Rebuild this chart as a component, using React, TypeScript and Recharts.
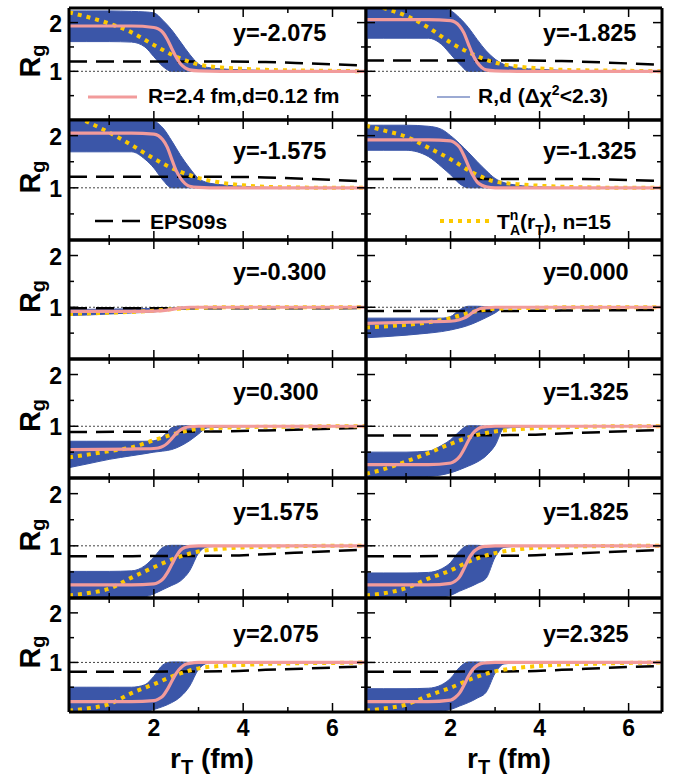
import React from 'react';
import { ComposedChart, Line, Area, XAxis, YAxis } from 'recharts';

const FONT = "'Liberation Sans', Arial, Helvetica, sans-serif";
const BLUE = '#3b56a8';
const PINK_C = '#f29b9b';
const GOLD = '#fcc900';

// rapidity of each panel (row-major, left then right)
const PANEL_RAPIDITY = ['-2.075', '-1.825', '-1.575', '-1.325', '-0.300', '0.000', '0.300', '1.325', '1.575', '1.825', '2.075', '2.325'];

// tick values
const X_TICKS = [1, 2, 3, 4, 5, 6];
const X_LABELED = [2, 4, 6];
const Y_TICKS = [0.5, 1, 1.5, 2];
const Y_LABELED = [1, 2];

// pink: R=2.4 fm, d=0.12 fm
const R_PINK = [0.1, 1.5, 2.0, 2.1, 2.2, 2.3, 2.4, 2.5, 2.6, 2.7, 2.8, 3.0, 3.5, 6.75];
const PINK = [
  [1.93, 1.93, 1.90, 1.87, 1.80, 1.66, 1.47, 1.29, 1.15, 1.07, 1.03, 1.01, 1.0, 1.0],
  [2.06, 2.06, 2.04, 2.01, 1.93, 1.79, 1.56, 1.34, 1.18, 1.08, 1.03, 1.01, 1.0, 1.0],
  [2.05, 2.05, 2.03, 2.00, 1.92, 1.78, 1.55, 1.33, 1.18, 1.08, 1.03, 1.01, 1.0, 1.0],
  [1.92, 1.92, 1.90, 1.86, 1.78, 1.62, 1.42, 1.24, 1.11, 1.05, 1.02, 1.0, 1.0, 1.0],
  [0.92, 0.92, 0.925, 0.93, 0.935, 0.945, 0.96, 0.975, 0.985, 0.995, 1.0, 1.0, 1.0, 1.0],
  [0.69, 0.72, 0.73, 0.74, 0.76, 0.79, 0.84, 0.90, 0.95, 0.98, 0.99, 1.0, 1.0, 1.0],
  [0.55, 0.56, 0.57, 0.58, 0.61, 0.67, 0.76, 0.86, 0.93, 0.97, 0.99, 1.0, 1.0, 1.0],
  [0.26, 0.26, 0.29, 0.33, 0.41, 0.55, 0.72, 0.86, 0.94, 0.98, 0.99, 1.0, 1.0, 1.0],
  [0.25, 0.25, 0.27, 0.30, 0.36, 0.48, 0.64, 0.80, 0.92, 0.97, 0.99, 1.0, 1.0, 1.0],
  [0.25, 0.25, 0.28, 0.32, 0.40, 0.56, 0.74, 0.87, 0.94, 0.98, 0.99, 1.0, 1.0, 1.0],
  [0.21, 0.21, 0.23, 0.26, 0.32, 0.45, 0.62, 0.78, 0.89, 0.96, 0.98, 1.0, 1.0, 1.0],
  [0.21, 0.21, 0.24, 0.29, 0.38, 0.54, 0.72, 0.86, 0.94, 0.98, 0.99, 1.0, 1.0, 1.0],
];

// yellow dotted: T_A^n(r_T), n=15
const R_YEL = [0.1, 0.5, 1.0, 1.5, 2.0, 2.5, 3.0, 3.5, 4.0, 4.5, 5.0, 6.0, 6.75];
const YELLOW = [
  [2.21, 2.12, 1.98, 1.80, 1.54, 1.30, 1.14, 1.08, 1.05, 1.03, 1.02, 1.01, 1.0],
  [2.42, 2.30, 2.14, 1.90, 1.59, 1.35, 1.18, 1.10, 1.06, 1.03, 1.02, 1.01, 1.0],
  [2.42, 2.27, 2.06, 1.82, 1.56, 1.34, 1.19, 1.10, 1.05, 1.02, 1.01, 1.0, 1.0],
  [2.19, 2.10, 1.98, 1.77, 1.55, 1.29, 1.12, 1.07, 1.04, 1.02, 1.01, 1.0, 1.0],
  [0.87, 0.88, 0.895, 0.91, 0.935, 0.97, 0.99, 1.0, 1.0, 1.0, 1.0, 1.0, 1.0],
  [0.61, 0.63, 0.66, 0.71, 0.79, 0.91, 0.97, 0.985, 0.99, 1.0, 1.0, 1.0, 1.0],
  [0.40, 0.45, 0.52, 0.59, 0.73, 0.86, 0.95, 0.97, 0.98, 0.99, 0.99, 1.0, 1.0],
  [0.08, 0.17, 0.32, 0.48, 0.66, 0.81, 0.90, 0.94, 0.97, 0.98, 0.99, 1.0, 1.0],
  [0.05, 0.09, 0.18, 0.39, 0.59, 0.77, 0.89, 0.94, 0.97, 0.98, 0.99, 1.0, 1.0],
  [0.05, 0.09, 0.19, 0.37, 0.53, 0.73, 0.86, 0.93, 0.97, 0.98, 0.99, 1.0, 1.0],
  [0.03, 0.07, 0.16, 0.38, 0.56, 0.75, 0.88, 0.93, 0.95, 0.97, 0.98, 0.99, 1.0],
  [0.03, 0.07, 0.15, 0.33, 0.49, 0.68, 0.82, 0.89, 0.93, 0.96, 0.97, 0.99, 1.0],
];

// black dashed: EPS09s
const R_DASH = [0.1, 3.5, 4.5, 5.5, 6.75];
const EPS = [
  [1.20, 1.20, 1.19, 1.16, 1.12],
  [1.22, 1.22, 1.21, 1.18, 1.13],
  [1.21, 1.21, 1.20, 1.17, 1.12],
  [1.17, 1.17, 1.17, 1.16, 1.13],
  [0.98, 0.98, 0.98, 0.98, 0.985],
  [0.93, 0.93, 0.935, 0.94, 0.95],
  [0.89, 0.90, 0.92, 0.94, 0.97],
  [0.82, 0.83, 0.86, 0.89, 0.93],
  [0.80, 0.81, 0.84, 0.88, 0.93],
  [0.80, 0.81, 0.84, 0.88, 0.92],
  [0.81, 0.82, 0.85, 0.88, 0.92],
  [0.81, 0.82, 0.85, 0.89, 0.93],
];

// blue band: R,d (dchi2<2.3)
const R_BAND = [0.1, 0.5, 1.0, 1.5, 1.8, 2.0, 2.2, 2.4, 2.6, 2.8, 3.0, 3.2, 3.5, 4.0, 5.0, 6.75];
const BAND_HIGH = [
  [2.24, 2.24, 2.24, 2.23, 2.22, 2.20, 2.05, 1.85, 1.60, 1.35, 1.15, 1.08, 1.05, 1.03, 1.01, 1.0],
  [2.32, 2.32, 2.32, 2.32, 2.30, 2.25, 2.10, 1.90, 1.65, 1.42, 1.25, 1.14, 1.07, 1.04, 1.01, 1.0],
  [2.27, 2.27, 2.27, 2.27, 2.27, 2.27, 2.15, 1.90, 1.62, 1.38, 1.18, 1.10, 1.06, 1.03, 1.0, 1.0],
  [2.20, 2.20, 2.20, 2.18, 2.12, 2.00, 1.85, 1.68, 1.50, 1.33, 1.18, 1.10, 1.05, 1.02, 1.0, 1.0],
  [0.96, 0.96, 0.965, 0.97, 0.975, 0.98, 0.985, 0.99, 1.0, 1.0, 1.0, 1.0, 1.0, 1.0, 1.0, 1.0],
  [0.79, 0.79, 0.79, 0.79, 0.79, 0.82, 0.95, 1.02, 1.02, 1.01, 1.0, 1.0, 1.0, 1.0, 1.0, 1.0],
  [0.71, 0.71, 0.71, 0.71, 0.71, 0.72, 0.80, 0.97, 1.01, 1.01, 1.0, 1.0, 1.0, 1.0, 1.0, 1.0],
  [0.50, 0.50, 0.50, 0.52, 0.63, 0.74, 0.90, 1.01, 1.01, 1.0, 1.0, 1.0, 1.0, 1.0, 1.0, 1.0],
  [0.51, 0.51, 0.51, 0.52, 0.62, 0.78, 0.97, 1.01, 1.01, 1.0, 1.0, 1.0, 1.0, 1.0, 1.0, 1.0],
  [0.48, 0.48, 0.48, 0.49, 0.56, 0.68, 0.90, 1.01, 1.01, 1.0, 1.0, 1.0, 1.0, 1.0, 1.0, 1.0],
  [0.50, 0.50, 0.50, 0.50, 0.55, 0.72, 0.95, 1.01, 1.01, 1.0, 1.0, 1.0, 1.0, 1.0, 1.0, 1.0],
  [0.47, 0.47, 0.47, 0.48, 0.55, 0.68, 0.90, 1.01, 1.01, 1.0, 1.0, 1.0, 1.0, 1.0, 1.0, 1.0],
];
const BAND_LOW = [
  [1.61, 1.61, 1.61, 1.60, 1.50, 1.30, 1.10, 1.0, 1.0, 1.0, 1.0, 1.0, 1.0, 1.0, 1.0, 1.0],
  [1.68, 1.68, 1.68, 1.68, 1.55, 1.35, 1.15, 1.0, 1.0, 1.0, 1.0, 1.0, 1.0, 1.0, 1.0, 1.0],
  [1.69, 1.69, 1.69, 1.69, 1.55, 1.38, 1.15, 1.0, 1.0, 1.0, 1.0, 1.0, 1.0, 1.0, 1.0, 1.0],
  [1.72, 1.72, 1.72, 1.60, 1.40, 1.25, 1.08, 1.0, 1.0, 1.0, 1.0, 1.0, 1.0, 1.0, 1.0, 1.0],
  [0.84, 0.85, 0.87, 0.89, 0.90, 0.91, 0.93, 0.95, 0.97, 0.99, 1.0, 1.0, 1.0, 1.0, 1.0, 1.0],
  [0.41, 0.43, 0.46, 0.50, 0.53, 0.56, 0.60, 0.65, 0.72, 0.80, 0.89, 0.99, 1.0, 1.0, 1.0, 1.0],
  [0.20, 0.27, 0.36, 0.43, 0.47, 0.50, 0.52, 0.55, 0.62, 0.72, 0.85, 0.97, 0.98, 0.99, 1.0, 1.0],
  [0.0, 0.0, 0.01, 0.03, 0.06, 0.10, 0.16, 0.23, 0.31, 0.43, 0.63, 0.96, 0.98, 0.99, 1.0, 1.0],
  [0.0, 0.0, 0.0, 0.0, 0.02, 0.08, 0.16, 0.24, 0.33, 0.52, 0.86, 0.98, 0.99, 1.0, 1.0, 1.0],
  [0.0, 0.0, 0.0, 0.0, 0.02, 0.05, 0.13, 0.20, 0.28, 0.38, 0.78, 0.97, 0.99, 1.0, 1.0, 1.0],
  [0.0, 0.0, 0.0, 0.0, 0.0, 0.05, 0.11, 0.19, 0.31, 0.52, 0.86, 0.98, 0.99, 1.0, 1.0, 1.0],
  [0.0, 0.0, 0.0, 0.0, 0.02, 0.05, 0.12, 0.19, 0.28, 0.40, 0.78, 0.97, 0.99, 1.0, 1.0, 1.0],
];

// layout
const COL_X = [69, 366, 662];
const ROW_Y = [8, 120, 240, 359, 478, 598, 712];
const X_DOMAIN: [number, number] = [0.1, 6.75];
const Y_DOMAIN: [number, number] = [0, 2.3];
const LABEL_X = [233, 543];
const LABEL_BASE = [41, 159, 280, 400, 520, 642];
const AX = 1; // axis band thickness (px)

const tickFont = { fontFamily: FONT, fontWeight: 700, fontSize: 23, fill: '#000' } as const;

function BottomTick(p: any) {
  const v = p.payload.value;
  const len = v % 2 === 0 ? 9 : 5;
  return (
    <g>
      <line x1={p.x} x2={p.x} y1={p.y} y2={p.y - len} stroke="#000" strokeWidth={1.5} />
      {p.showLabel && X_LABELED.includes(v) ? (
        <text x={p.x} y={p.y + 24} textAnchor="middle" {...tickFont}>{v}</text>
      ) : null}
    </g>
  );
}
function TopTick(p: any) {
  const v = p.payload.value;
  const len = v % 2 === 0 ? 9 : 5;
  return <line x1={p.x} x2={p.x} y1={p.y} y2={p.y + len} stroke="#000" strokeWidth={1.5} />;
}
function LeftTick(p: any) {
  const v = p.payload.value;
  const len = Y_LABELED.includes(v) ? 9 : 5;
  return (
    <g>
      <line x1={p.x} x2={p.x + len} y1={p.y} y2={p.y} stroke="#000" strokeWidth={1.5} />
      {p.showLabel && Y_LABELED.includes(v) ? (
        <text x={p.x - 7} y={p.y + 9} textAnchor="end" {...tickFont}>{v}</text>
      ) : null}
    </g>
  );
}
function RightTick(p: any) {
  const v = p.payload.value;
  const len = Y_LABELED.includes(v) ? 9 : 5;
  return <line x1={p.x} x2={p.x - len} y1={p.y} y2={p.y} stroke="#000" strokeWidth={1.5} />;
}

function Panel({ idx }: { idx: number }) {
  const row = Math.floor(idx / 2);
  const col = idx % 2;
  const left = COL_X[col];
  const top = ROW_Y[row];
  const w = COL_X[col + 1] - left;
  const h = ROW_Y[row + 1] - top;
  const unity = [{ r: X_DOMAIN[0], v: 1 }, { r: X_DOMAIN[1], v: 1 }];
  const band = R_BAND.map((r, i) => ({ r, v: [BAND_LOW[idx][i], BAND_HIGH[idx][i]] }));
  const pink = R_PINK.map((r, i) => ({ r, v: PINK[idx][i] }));
  const yel = R_YEL.map((r, i) => ({ r, v: YELLOW[idx][i] }));
  const eps = R_DASH.map((r, i) => ({ r, v: EPS[idx][i] }));
  const axisLine = { stroke: '#000', strokeWidth: 3 };
  return (
    <div style={{ position: 'absolute', left: left - AX, top: top - AX, width: w + 2 * AX, height: h + 2 * AX }}>
      <ComposedChart width={w + 2 * AX} height={h + 2 * AX} margin={{ top: 0, right: 0, bottom: 0, left: 0 }}>
        <XAxis xAxisId="b" type="number" dataKey="r" orientation="bottom" domain={X_DOMAIN} allowDataOverflow
          ticks={X_TICKS} interval={0} height={AX} tickSize={0} tickMargin={0} axisLine={axisLine} tickLine={false}
          tick={(p: any) => <BottomTick {...p} showLabel={row === 5} />} />
        <XAxis xAxisId="t" type="number" dataKey="r" orientation="top" domain={X_DOMAIN} allowDataOverflow
          ticks={X_TICKS} interval={0} height={AX} tickSize={0} tickMargin={0} axisLine={axisLine} tickLine={false}
          tick={(p: any) => <TopTick {...p} />} />
        <YAxis yAxisId="l" type="number" orientation="left" domain={Y_DOMAIN} allowDataOverflow
          ticks={Y_TICKS} interval={0} width={AX} tickSize={0} tickMargin={0} axisLine={axisLine} tickLine={false}
          tick={(p: any) => <LeftTick {...p} showLabel={col === 0} />} />
        <YAxis yAxisId="r" type="number" orientation="right" domain={Y_DOMAIN} allowDataOverflow
          ticks={Y_TICKS} interval={0} width={AX} tickSize={0} tickMargin={0} axisLine={axisLine} tickLine={false}
          tick={(p: any) => <RightTick {...p} />} />
        <Line xAxisId="b" yAxisId="l" data={unity} dataKey="v" type="linear" stroke="#444" strokeWidth={1}
          strokeDasharray="2 2" dot={false} activeDot={false} isAnimationActive={false} />
        <Area xAxisId="b" yAxisId="l" data={band} dataKey="v" type="monotone" stroke={BLUE} strokeWidth={1}
          fill={BLUE} fillOpacity={1} dot={false} activeDot={false} isAnimationActive={false} />
        <Line xAxisId="b" yAxisId="l" data={eps} dataKey="v" type="monotone" stroke="#000" strokeWidth={2.5}
          strokeDasharray="18 9" dot={false} activeDot={false} isAnimationActive={false} />
        <Line xAxisId="b" yAxisId="l" data={yel} dataKey="v" type="monotone" stroke={GOLD} strokeWidth={4}
          strokeDasharray="4 5" dot={false} activeDot={false} isAnimationActive={false} />
        <Line xAxisId="b" yAxisId="l" data={pink} dataKey="v" type="monotone" stroke={PINK_C} strokeWidth={3.2}
          dot={false} activeDot={false} isAnimationActive={false} />
      </ComposedChart>
    </div>
  );
}

export default function App() {
  const txt = { fontFamily: FONT, fontWeight: 700, fill: '#000' } as const;
  return (
    <div style={{ position: 'absolute', left: 0, top: 0, width: 680, height: 779, background: '#fff' }}>
      <style>{`.recharts-surface{overflow:visible}`}</style>
      {PANEL_RAPIDITY.map((_, i) => <Panel key={i} idx={i} />)}
      <svg width={680} height={779} style={{ position: 'absolute', left: 0, top: 0, pointerEvents: 'none' }}>
        {PANEL_RAPIDITY.map((y, i) => (
          <text key={'y' + i} x={LABEL_X[i % 2]} y={LABEL_BASE[Math.floor(i / 2)]} fontSize={23.5} {...txt}>{`y=${y}`}</text>
        ))}
        {/* legends */}
        <line x1={88} x2={137} y1={97} y2={97} stroke={PINK_C} strokeWidth={3.2} />
        <text x={148} y={103} fontSize={21} {...txt}>R=2.4 fm,d=0.12 fm</text>
        <line x1={437} x2={470} y1={97} y2={97} stroke={BLUE} strokeWidth={1.2} />
        <text x={478} y={103} fontSize={21} {...txt}>R,d (Δχ<tspan dy={-8} fontSize={14}>2</tspan><tspan dy={8}>&lt;2.3)</tspan></text>
        <line x1={95} x2={141} y1={221} y2={221} stroke="#000" strokeWidth={2.5} strokeDasharray="18 9" />
        <text x={150} y={229} fontSize={21} {...txt}>EPS09s</text>
        <line x1={440} x2={490} y1={221} y2={221} stroke={GOLD} strokeWidth={4} strokeDasharray="4 5" />
        <text x={497} y={229} fontSize={21} {...txt}>
          T<tspan dy={-9} fontSize={14}>n</tspan><tspan dx={-8.5} dy={15} fontSize={14}>A</tspan>
          <tspan dy={-6}>(r</tspan><tspan dy={6} fontSize={14}>T</tspan><tspan dy={-6}>), n=15</tspan>
        </text>
        {/* y axis titles */}
        {[0, 1, 2, 3, 4, 5].map((r) => {
          const cy = (ROW_Y[r] + ROW_Y[r + 1]) / 2 - 3;
          return (
            <text key={'rg' + r} transform={`translate(40, ${cy}) rotate(-90)`} textAnchor="middle" fontSize={29} {...txt}>
              R<tspan dy={5} fontSize={20}>g</tspan>
            </text>
          );
        })}
        {/* x axis titles */}
        {[170, 467].map((x, i) => (
          <text key={'rt' + i} x={x} y={768} fontSize={28} {...txt}>
            r<tspan dy={6} fontSize={20}>T</tspan><tspan dy={-6}> (fm)</tspan>
          </text>
        ))}
      </svg>
    </div>
  );
}
